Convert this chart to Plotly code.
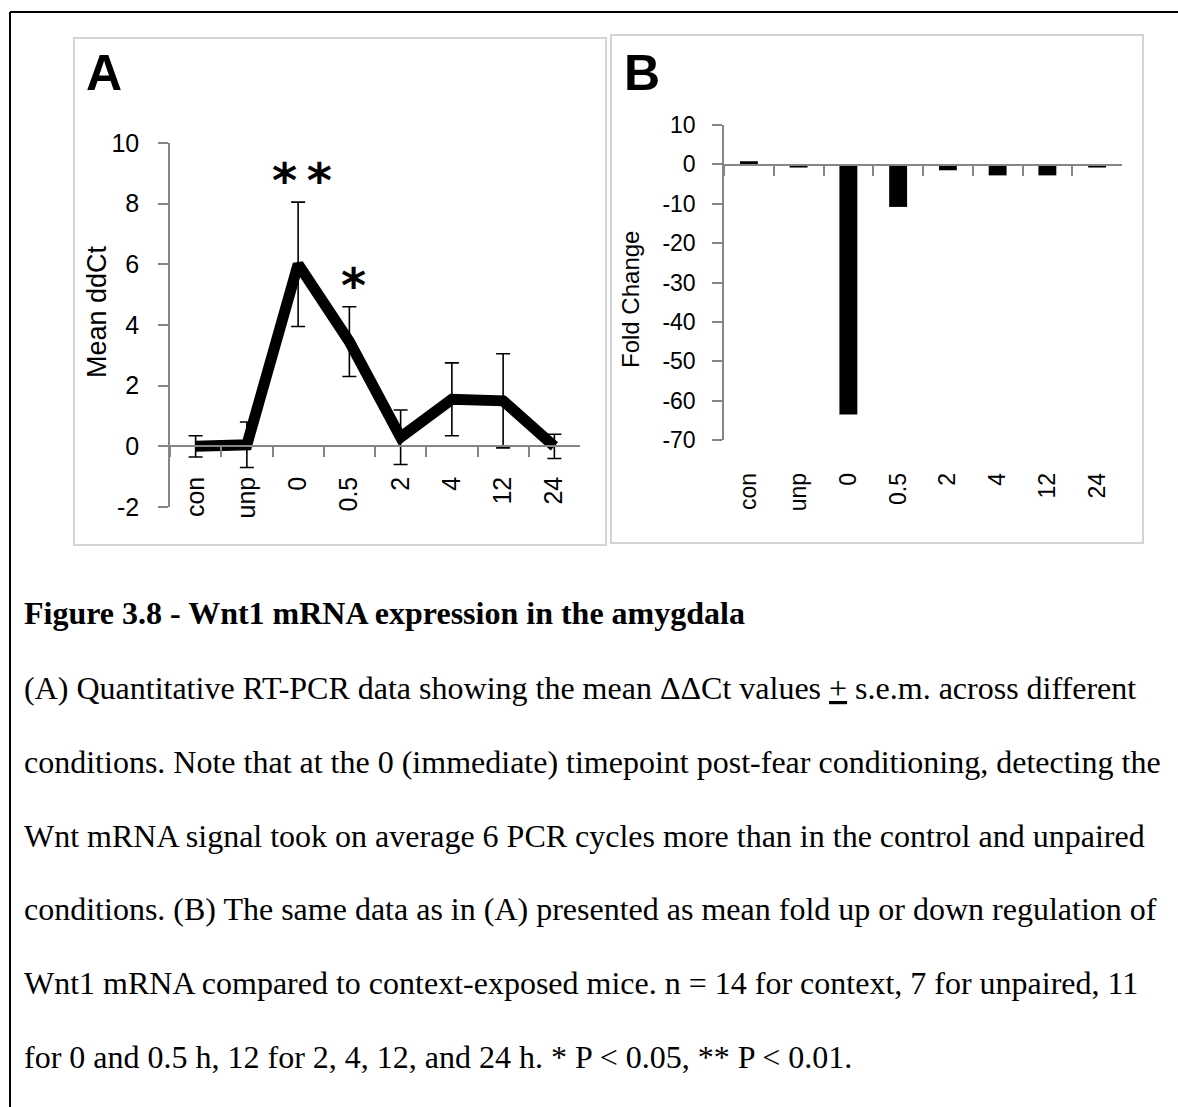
import plotly.graph_objects as go

# ---------------- data ----------------
categories = ["con", "unp", "0", "0.5", "2", "4", "12", "24"]
ddct_mean = [0.0, 0.05, 6.0, 3.45, 0.3, 1.55, 1.5, 0.0]
ddct_sem = [0.35, 0.75, 2.05, 1.15, 0.9, 1.2, 1.55, 0.4]
significance = ["", "", "**", "*", "", "", "", ""]
fold_change = [0.8, -0.8, -63.5, -10.8, -1.5, -2.8, -2.8, -0.8]
yticks_a = [-2, 0, 2, 4, 6, 8, 10]
yticks_b = [-70, -60, -50, -40, -30, -20, -10, 0, 10]

caption_title = "Figure 3.8 - Wnt1 mRNA expression in the amygdala"
caption_lines = [
    "(A) Quantitative RT-PCR data showing the mean \u0394\u0394Ct values <u>+</u> s.e.m. across different",
    "conditions. Note that at the 0 (immediate) timepoint post-fear conditioning, detecting the",
    "Wnt mRNA signal took on average 6 PCR cycles more than in the control and unpaired",
    "conditions. (B) The same data as in (A) presented as mean fold up or down regulation of",
    "Wnt1 mRNA compared to context-exposed mice. n = 14 for context, 7 for unpaired, 11",
    "for 0 and 0.5 h, 12 for 2, 4, 12, and 24 h. * P &lt; 0.05, ** P &lt; 0.01.",
]

# ---------------- layout helpers ----------------
W, H = 1178, 1107


def fx(x):
    return x / W


def fy(y):
    return 1 - y / H


AXIS_GRAY = "#868686"
SANS = "Liberation Sans"
SERIF = "Liberation Serif"

fig = go.Figure()

# Panel A: line with error bars
fig.add_trace(go.Scatter(
    x=categories, y=ddct_mean, mode="lines",
    line=dict(color="black", width=11),
    error_y=dict(type="data", array=ddct_sem, color="black", thickness=1.6, width=7),
    xaxis="x", yaxis="y", showlegend=False, hoverinfo="skip",
))

# Panel B: bars
fig.add_trace(go.Bar(
    x=categories, y=fold_change, marker=dict(color="black", line=dict(width=0)),
    width=0.36, xaxis="x2", yaxis="y2", showlegend=False, hoverinfo="skip",
))

# significance stars above error bars (x given as category index)
annotations = []
for i, (m, s, sig) in enumerate(zip(ddct_mean, ddct_sem, significance)):
    if sig:
        annotations.append(dict(
            x=i, y=m + s, xref="x", yref="y",
            text="<b>" + sig.replace("**", "*\u2009*") + "</b>",
            showarrow=False, xanchor="center", yanchor="bottom", yshift=-8, xshift=4,
            font=dict(family="DejaVu Sans", size=48, color="black"),
        ))

# panel letters
annotations.append(dict(x=fx(84), y=fy(73), xref="paper", yref="paper", text="<b>A</b>",
                        showarrow=False, xanchor="left", yanchor="middle",
                        font=dict(family=SANS, size=50, color="black")))
annotations.append(dict(x=fx(622), y=fy(73), xref="paper", yref="paper", text="<b>B</b>",
                        showarrow=False, xanchor="left", yanchor="middle",
                        font=dict(family=SANS, size=50, color="black")))

# axis titles
annotations.append(dict(x=fx(97), y=fy(312), xref="paper", yref="paper", text="Mean ddCt",
                        showarrow=False, textangle=-90, xanchor="center", yanchor="middle",
                        font=dict(family=SANS, size=27, color="black")))
annotations.append(dict(x=fx(631), y=fy(300), xref="paper", yref="paper", text="Fold Change",
                        showarrow=False, textangle=-90, xanchor="center", yanchor="middle",
                        font=dict(family=SANS, size=24, color="black")))

# caption
annotations.append(dict(x=fx(22), y=fy(613), xref="paper", yref="paper",
                        text="<b>" + caption_title + "</b>", showarrow=False,
                        xanchor="left", yanchor="middle",
                        font=dict(family=SERIF, size=32, color="black")))
for i, line in enumerate(caption_lines):
    annotations.append(dict(x=fx(22), y=fy(688 + i * 73.8), xref="paper", yref="paper",
                            text=line, showarrow=False, xanchor="left", yanchor="middle",
                            font=dict(family=SERIF, size=32, color="black")))

shapes = [
    # outer black border (top and left)
    dict(type="line", xref="paper", yref="paper", x0=fx(10), x1=fx(1178), y0=fy(12), y1=fy(12),
         line=dict(color="black", width=2)),
    dict(type="line", xref="paper", yref="paper", x0=fx(10), x1=fx(10), y0=fy(12), y1=fy(1107),
         line=dict(color="black", width=2)),
    # panel frames
    dict(type="rect", xref="paper", yref="paper", x0=fx(74), x1=fx(606), y0=fy(38), y1=fy(545),
         line=dict(color="#d4d4d4", width=2)),
    dict(type="rect", xref="paper", yref="paper", x0=fx(611), x1=fx(1143), y0=fy(35), y1=fy(543),
         line=dict(color="#d4d4d4", width=2)),
]

common_x = dict(
    type="category", categoryorder="array", categoryarray=categories, range=[-0.5, 7.5],
    showline=True, linecolor=AXIS_GRAY, linewidth=1.5, ticks="outside", ticklen=10,
    tickcolor=AXIS_GRAY, tickwidth=1.5, tickson="boundaries", tickangle=-90,
    showgrid=False, zeroline=False, fixedrange=True, automargin=False,
)
common_y = dict(
    showline=True, linecolor=AXIS_GRAY, linewidth=1.5, ticks="outside", ticklen=10,
    tickcolor=AXIS_GRAY, tickwidth=1.5, showgrid=False, zeroline=False, fixedrange=True,
    automargin=False,
)

fig.update_layout(
    width=W, height=H, margin=dict(l=0, r=0, t=0, b=0, pad=0), autosize=False,
    paper_bgcolor="white", plot_bgcolor="rgba(0,0,0,0)",
    xaxis=dict(common_x, domain=[fx(170), fx(580)], anchor="free", position=fy(446),
               ticklabelstandoff=20, tickfont=dict(family=SANS, size=25, color="black")),
    yaxis=dict(common_y, domain=[fy(507), fy(143)], range=[-2, 10], anchor="x",
               tickvals=yticks_a, ticktext=[str(v) for v in yticks_a], ticklabelstandoff=14,
               tickfont=dict(family=SANS, size=25, color="black")),
    xaxis2=dict(common_x, domain=[fx(724), fx(1122)], anchor="free", position=fy(165),
                ticklabelstandoff=298, tickfont=dict(family=SANS, size=23, color="black")),
    yaxis2=dict(common_y, domain=[fy(440), fy(125)], range=[-70, 10], anchor="x2",
                tickvals=yticks_b, ticktext=[str(v) for v in yticks_b], ticklabelstandoff=12,
                tickfont=dict(family=SANS, size=23, color="black")),
    annotations=annotations, shapes=shapes, bargap=0.6,
)

post = (
    "document.body.style.margin='0';document.body.style.padding='0';"
    "var gd=document.getElementById('{plot_id}');"
    "gd.style.position='absolute';gd.style.top='0px';gd.style.left='0px';"
)
fig.write_html("out.html", post_script=post, config={"displayModeBar": False})
